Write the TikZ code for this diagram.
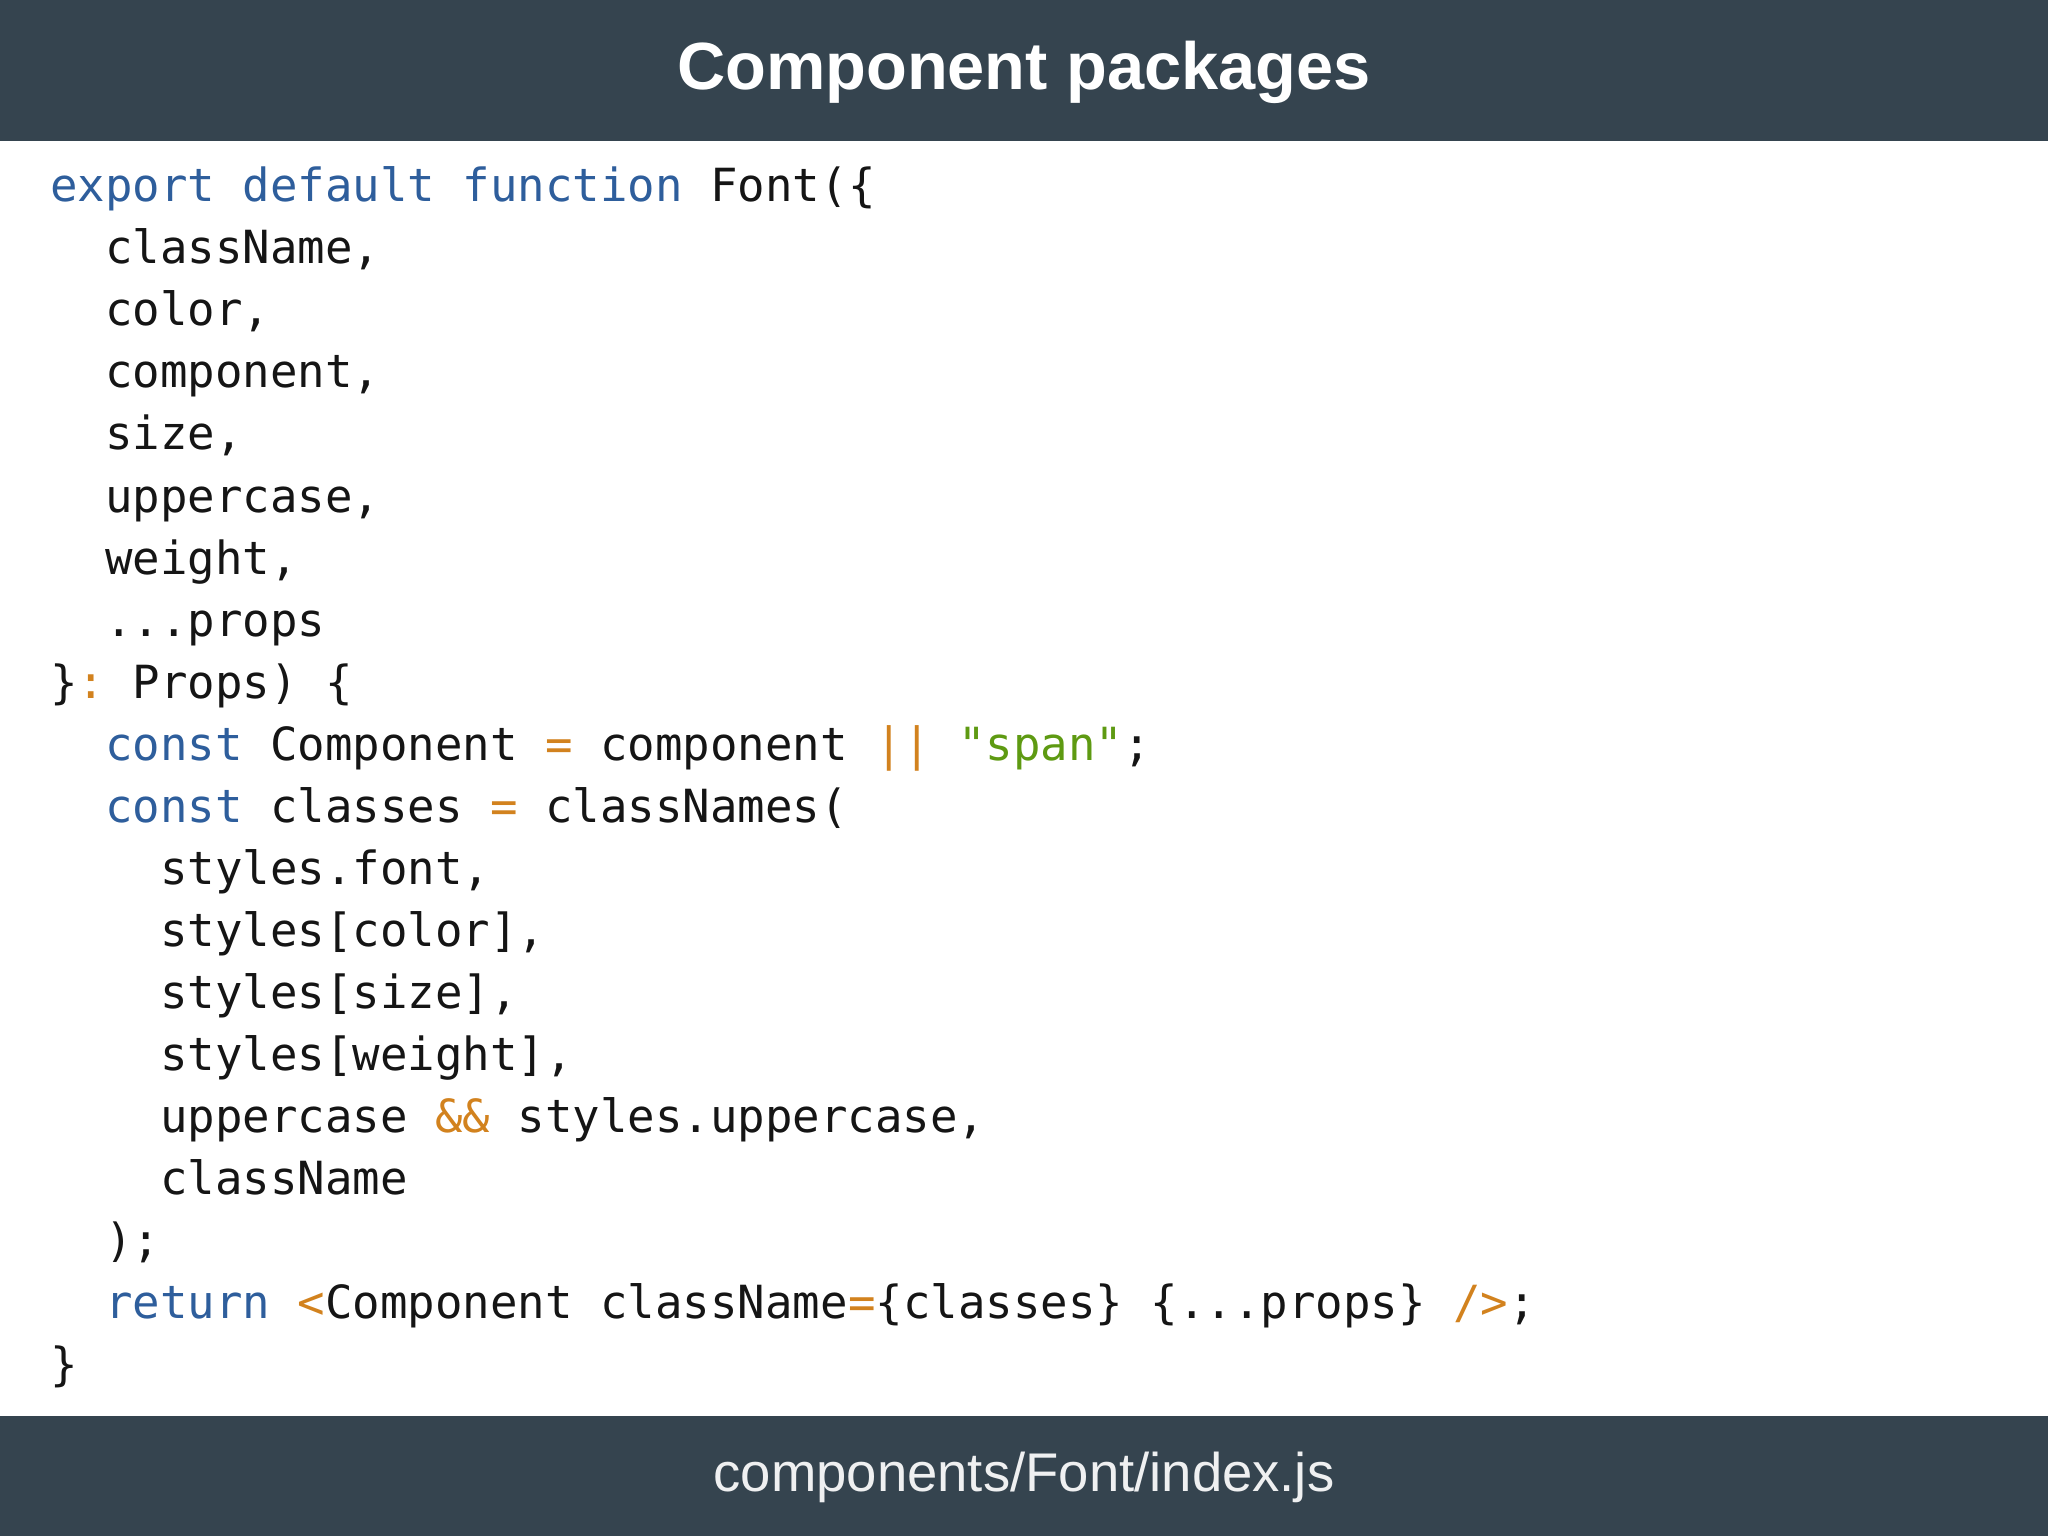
\documentclass[tikz,border=0pt]{standalone}
\usepackage{fontspec}
\setmainfont{Liberation Sans}
\setmonofont{DejaVu Sans Mono}
\definecolor{bar}{HTML}{35444F}
\definecolor{kw}{HTML}{2E5E9C}
\definecolor{op}{HTML}{D2821E}
\definecolor{str}{HTML}{5E9A12}
\definecolor{txt}{HTML}{151515}
\newcommand{\K}[1]{\textcolor{kw}{#1}}
\newcommand{\Op}[1]{\textcolor{op}{#1}}
\newcommand{\St}[1]{\textcolor{str}{#1}}
\tikzset{code/.style={anchor=base west,inner sep=0pt,font=\fontsize{13pt}{13pt}\ttfamily,text=txt}}
\begin{document}
\begin{tikzpicture}[x=1cm,y=1cm]
\useasboundingbox (0,0) rectangle (20.48,-15.36);
\fill[white] (0,0) rectangle (20.48,-15.36);
\fill[bar] (0,0) rectangle (20.48,-1.41);
\fill[bar] (0,-14.16) rectangle (20.48,-15.36);
\node[text=white,font=\fontsize{19pt}{19pt}\selectfont\bfseries] (title) at (10.24,-0.72) {Component packages};
\node[text=white!92!bar,font=\fontsize{15.5pt}{15.5pt}\selectfont] (foot) at (10.24,-14.77) {components/Font/index.js};
\def\a{0.496}\def\b{1.046}\def\c{1.596}
\node[code] (l0) at (\a,-2.02) {\K{export default function} Font(\{};
\node[code] (l1) at (\b,-2.64) {className,};
\node[code] (l2) at (\b,-3.26) {color,};
\node[code] (l3) at (\b,-3.88) {component,};
\node[code] (l4) at (\b,-4.50) {size,};
\node[code] (l5) at (\b,-5.12) {uppercase,};
\node[code] (l6) at (\b,-5.74) {weight,};
\node[code] (l7) at (\b,-6.36) {...props};
\node[code] (l8) at (\a,-6.98) {\}\Op{:} Props) \{};
\node[code] (l9) at (\b,-7.60) {\K{const} Component \Op{=} component \Op{||} \St{"span"};};
\node[code] (l10) at (\b,-8.22) {\K{const} classes \Op{=} classNames(};
\node[code] (l11) at (\c,-8.84) {styles.font,};
\node[code] (l12) at (\c,-9.46) {styles[color],};
\node[code] (l13) at (\c,-10.08) {styles[size],};
\node[code] (l14) at (\c,-10.70) {styles[weight],};
\node[code] (l15) at (\c,-11.32) {uppercase \Op{\&\&} styles.uppercase,};
\node[code] (l16) at (\c,-11.94) {className};
\node[code] (l17) at (\b,-12.56) {);};
\node[code] (l18) at (\b,-13.18) {\K{return} \Op{<}Component className\Op{=}\{classes\} \{...props\} \Op{/>};};
\node[code] (l19) at (\a,-13.80) {\}};
\end{tikzpicture}
\end{document}
